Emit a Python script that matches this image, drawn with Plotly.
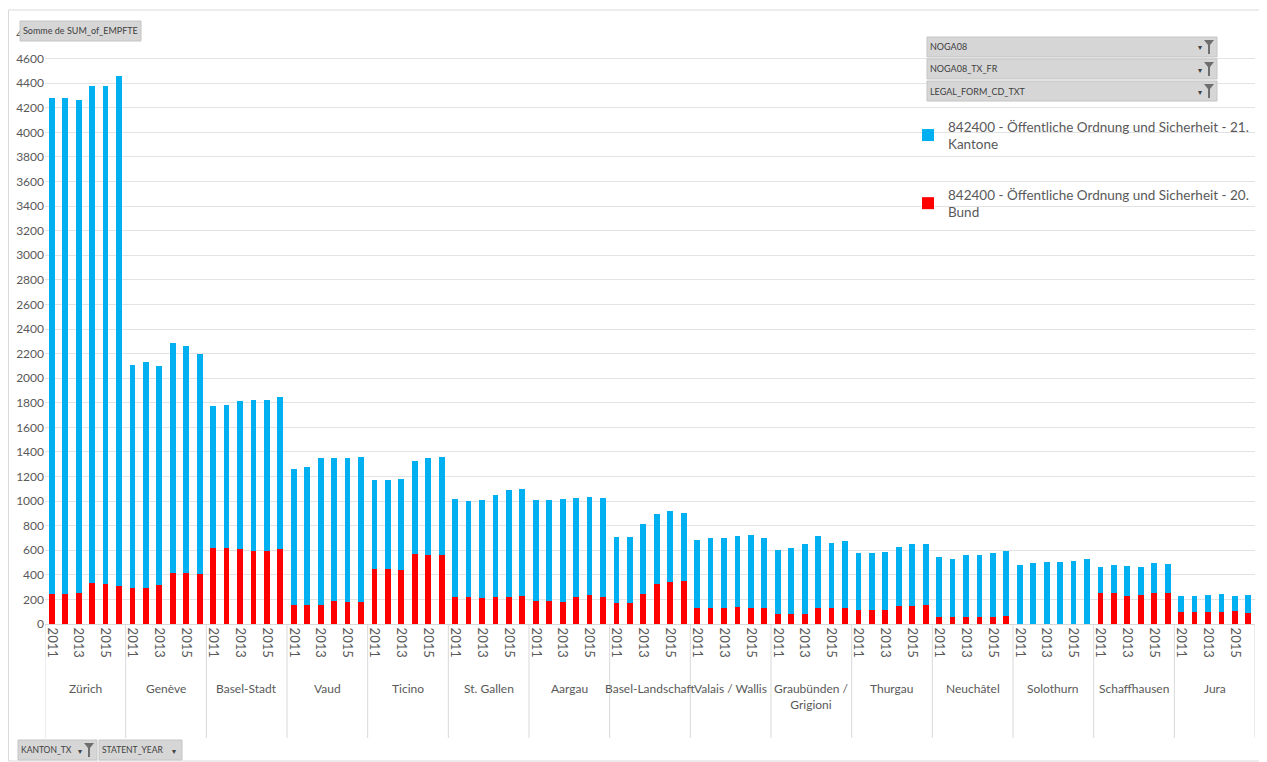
import plotly.graph_objects as go

cantons = ["Zürich", "Genève", "Basel-Stadt", "Vaud", "Ticino", "St. Gallen", "Aargau",
           "Basel-Landschaft", "Valais / Wallis", "Graubünden / Grigioni", "Thurgau",
           "Neuchâtel", "Solothurn", "Schaffhausen", "Jura"]
canton_labels = ["Zürich", "Genève", "Basel-Stadt", "Vaud", "Ticino", "St. Gallen", "Aargau",
                 "Basel-Landschaft", "Valais / Wallis", "Graubünden /<br>Grigioni", "Thurgau",
                 "Neuchâtel", "Solothurn", "Schaffhausen", "Jura"]
years = ["2011", "2012", "2013", "2014", "2015", "2016"]

# totals (Bund + Kantone) per canton, per year
total_zh = [4278, 4278, 4262, 4374, 4374, 4455]
total_ge = [2108, 2130, 2095, 2287, 2258, 2198]
total_bs = [1770, 1780, 1818, 1824, 1824, 1846]
total_vd = [1258, 1274, 1347, 1347, 1352, 1358]
total_ti = [1168, 1168, 1176, 1323, 1347, 1358]
total_sg = [1014, 1000, 1008, 1051, 1089, 1095]
total_ag = [1008, 1008, 1016, 1022, 1033, 1027]
total_bl = [707, 707, 810, 892, 916, 905]
total_vs = [683, 699, 699, 718, 726, 699]
total_gr = [599, 615, 650, 715, 659, 675]
total_tg = [580, 580, 585, 626, 648, 650]
total_ne = [545, 531, 558, 558, 580, 593]
total_so = [482, 493, 501, 501, 512, 531]
total_sh = [463, 477, 471, 463, 493, 488]
total_ju = [225, 225, 236, 244, 230, 236]

# 20. Bund
bund_zh = [244, 244, 255, 333, 322, 312]
bund_ge = [295, 295, 320, 417, 417, 406]
bund_bs = [615, 615, 607, 596, 596, 607]
bund_vd = [152, 152, 152, 187, 182, 182]
bund_ti = [444, 444, 439, 569, 561, 561]
bund_sg = [217, 217, 211, 217, 217, 230]
bund_ag = [187, 187, 182, 217, 236, 217]
bund_bl = [173, 173, 247, 322, 341, 352]
bund_vs = [127, 133, 133, 138, 133, 133]
bund_gr = [81, 81, 81, 133, 127, 133]
bund_tg = [111, 111, 111, 144, 144, 154]
bund_ne = [54, 54, 60, 60, 60, 68]
bund_so = [0, 0, 0, 0, 0, 0]
bund_sh = [249, 249, 230, 238, 255, 255]
bund_ju = [95, 95, 95, 95, 103, 89]

totals = [total_zh, total_ge, total_bs, total_vd, total_ti, total_sg, total_ag, total_bl,
          total_vs, total_gr, total_tg, total_ne, total_so, total_sh, total_ju]
bunds = [bund_zh, bund_ge, bund_bs, bund_vd, bund_ti, bund_sg, bund_ag, bund_bl,
         bund_vs, bund_gr, bund_tg, bund_ne, bund_so, bund_sh, bund_ju]

x = [f"{c}|{y}" for c in cantons for y in years]
bund = [b for row in bunds for b in row]
kantone = [t - b for trow, brow in zip(totals, bunds) for t, b in zip(trow, brow)]
ticktext = [y if y in ("2011", "2013", "2015") else "" for c in cantons for y in years]

FONT = "Lato, Roboto, sans-serif"
GREY = "#595959"
BLUE = "#00B0F0"
RED = "#FF0000"

fig = go.Figure()
fig.add_trace(go.Bar(x=x, y=bund, name="842400 - Öffentliche Ordnung und Sicherheit - 20.<br>Bund",
                     marker=dict(color=RED, line=dict(width=0)), legendgroup="b", legendrank=2))
fig.add_trace(go.Bar(x=x, y=kantone, name="842400 - Öffentliche Ordnung und Sicherheit - 21.<br>Kantone",
                     marker=dict(color=BLUE, line=dict(width=0)), legendgroup="k", legendrank=1))

# page offset: the browser adds an 8px body margin around the figure
OFF = 8
W, H = 1267 - OFF, 762 - OFF
L, R, T, B = 45 - OFF, 1267 - 1255, 34 - OFF, 762 - 624
pw, ph = W - L - R, H - T - B


def px_x(p):  # page pixel -> paper x
    return (p - OFF - L) / pw


def px_y(p):  # page pixel -> paper y
    return (H - B - (p - OFF)) / ph


shapes = []
annotations = []

# outer chart border
shapes.append(dict(type="rect", xref="paper", yref="paper", x0=px_x(8.5), x1=px_x(1266),
                   y0=px_y(761), y1=px_y(10), line=dict(color="#D9D9D9", width=1), layer="below"))

# category separators under the axis
n = len(years)
for i in range(len(cantons) + 1):
    shapes.append(dict(type="line", xref="x", yref="paper", x0=i * n - 0.5, x1=i * n - 0.5,
                       y0=0, y1=px_y(738), line=dict(color="#D9D9D9", width=1)))
for i, lab in enumerate(canton_labels):
    annotations.append(dict(xref="x", yref="paper", x=i * n + (n - 1) / 2, y=px_y(679),
                            text=lab, showarrow=False, yanchor="top",
                            font=dict(family=FONT, size=12, color=GREY)))


def funnel(xr, yc):
    # small filter funnel glyph, right edge at page xr, centred at page yc
    x0, x1 = xr - 11, xr - 1
    xm0, xm1 = xr - 7, xr - 5
    ya, yb, yc2 = yc - 7, yc - 2, yc + 7
    path = (f"M {px_x(x0)},{px_y(ya)} L {px_x(x1)},{px_y(ya)} L {px_x(xm1)},{px_y(yb)} "
            f"L {px_x(xm1)},{px_y(yc2)} L {px_x(xm0)},{px_y(yc2)} L {px_x(xm0)},{px_y(yb)} Z")
    shapes.append(dict(type="path", xref="paper", yref="paper", path=path,
                       fillcolor="#6E6E6E", line=dict(width=0), layer="above"))


def button(x0, y0, x1, y1, text, filt=False, arrow=True, size=9):
    shapes.append(dict(type="rect", xref="paper", yref="paper", x0=px_x(x0), x1=px_x(x1),
                       y0=px_y(y1), y1=px_y(y0), fillcolor="#D6D6D6",
                       line=dict(color="#C4C4C4", width=1), layer="above"))
    annotations.append(dict(xref="paper", yref="paper", x=px_x(x0 + 1), y=px_y((y0 + y1) / 2),
                            text=text, showarrow=False, xanchor="left", yanchor="middle",
                            font=dict(family=FONT, size=size, color="#404040")))
    if arrow:
        ax = x1 - (13 if filt else 4)
        annotations.append(dict(xref="paper", yref="paper", x=px_x(ax), y=px_y((y0 + y1) / 2 + 1),
                                text="▾", showarrow=False, xanchor="right", yanchor="middle",
                                font=dict(family="DejaVu Sans", size=8, color="#404040")))
    if filt:
        funnel(x1 - 2, (y0 + y1) / 2)


button(20, 21, 141, 41, "Somme de SUM_of_EMPFTE", arrow=False, size=9)
button(927, 37, 1217, 57, "NOGA08", filt=True)
button(927, 59, 1217, 79, "NOGA08_TX_FR", filt=True)
button(927, 81, 1217, 101, "LEGAL_FORM_CD_TXT", filt=True)
button(18, 740, 97, 760, "KANTON_TX", filt=True, size=8.5)
button(99, 740, 182, 760, "STATENT_YEAR", size=8.5)

fig.update_layout(
    width=W, height=H,
    margin=dict(l=L, r=R, t=T, b=B, autoexpand=False),
    paper_bgcolor="white", plot_bgcolor="white",
    barmode="stack", bargap=0.57,
    font=dict(family=FONT, color=GREY),
    showlegend=True,
    legend=dict(x=px_x(908), y=px_y(111), xanchor="left", yanchor="top",
                font=dict(family=FONT, size=13.5, color=GREY), traceorder="grouped",
                tracegroupgap=30, itemwidth=30, bgcolor="rgba(0,0,0,0)"),
    xaxis=dict(type="category", tickmode="array", tickvals=x, ticktext=ticktext,
               tickangle=90, tickfont=dict(family=FONT, size=13, color=GREY),
               showgrid=False, showline=True, linecolor="#D9D9D9", ticks="",
               range=[-0.5, len(x) - 0.5]),
    yaxis=dict(range=[0, 4800], dtick=200, tick0=0, showgrid=True, gridcolor="#E3E3E3",
               gridwidth=1, zeroline=False, showline=False, ticks="",
               tickfont=dict(family=FONT, size=12, color=GREY)),
    shapes=shapes,
    annotations=annotations,
)

fig.write_html("out.html")
